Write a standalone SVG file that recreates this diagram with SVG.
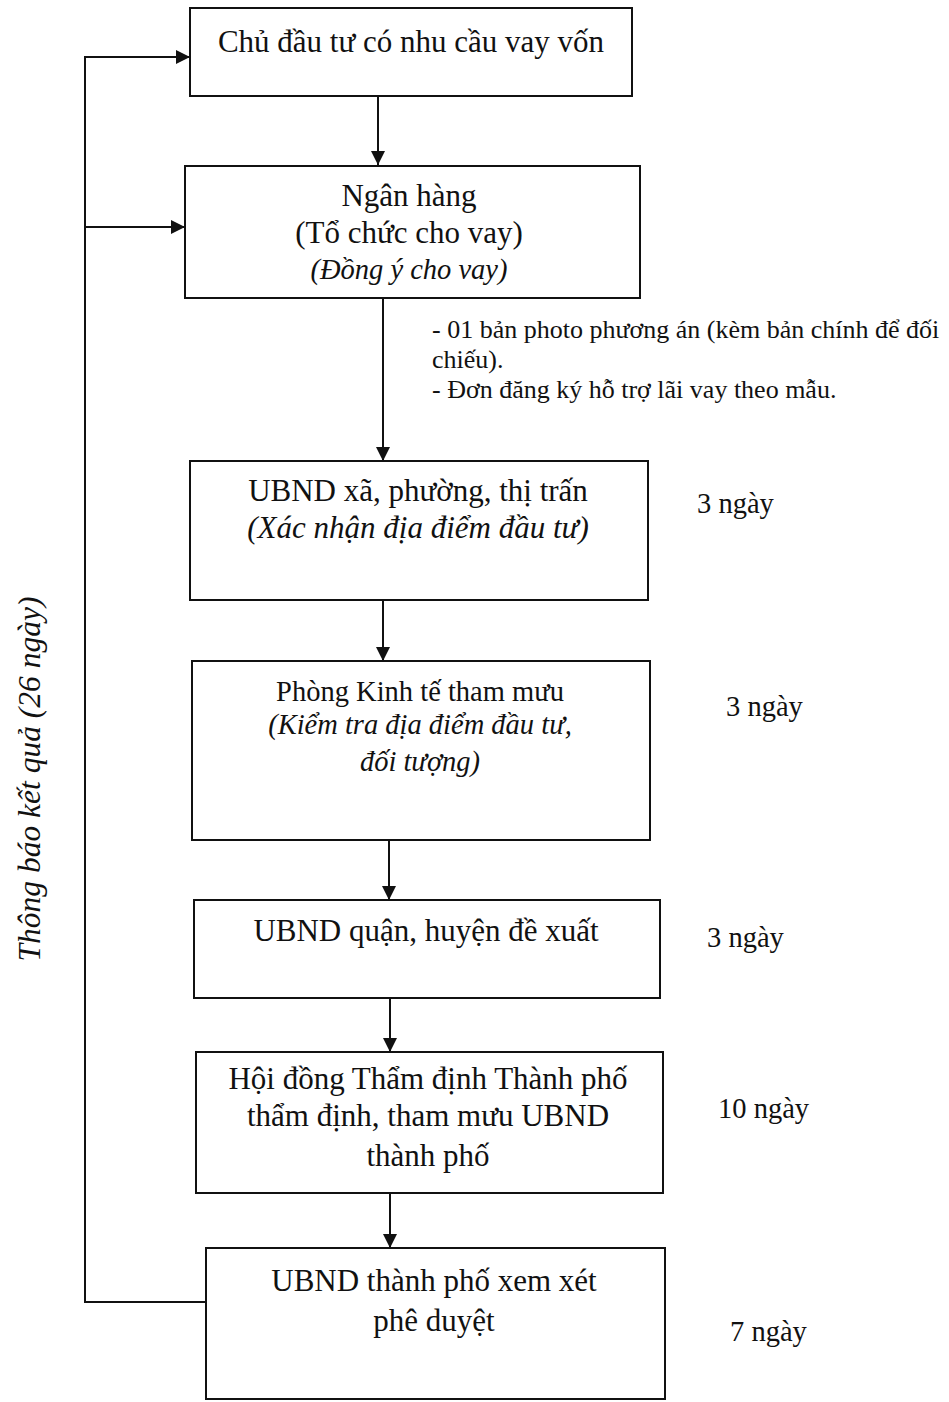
<svg xmlns="http://www.w3.org/2000/svg" width="949" height="1402" viewBox="0 0 949 1402">
<style>
.box{fill:#fff;stroke:#111;stroke-width:2}
.ln{fill:none;stroke:#111;stroke-width:2}
text{font-family:"Liberation Serif","Times New Roman",serif;fill:#111}
.t{font-size:31px;text-anchor:middle}
.s{font-size:28.5px;text-anchor:middle}
.i{font-style:italic}
.n{font-size:28.5px}
.a{font-size:26px}
</style>
<defs>
<marker id="ah2" markerWidth="14" markerHeight="14" refX="14" refY="7" orient="auto" markerUnits="userSpaceOnUse" viewBox="0 0 14 14">
<path d="M0,0 L14,7 L0,14 Z" fill="#111"/>
</marker>
</defs>
<rect width="949" height="1402" fill="#fff"/>
<g id="connectors">
<line class="ln" x1="378" y1="96" x2="378" y2="165" marker-end="url(#ah2)"/>
<line class="ln" x1="383" y1="298" x2="383" y2="461" marker-end="url(#ah2)"/>
<line class="ln" x1="383" y1="600" x2="383" y2="661" marker-end="url(#ah2)"/>
<line class="ln" x1="389" y1="840" x2="389" y2="900" marker-end="url(#ah2)"/>
<line class="ln" x1="390" y1="998" x2="390" y2="1052" marker-end="url(#ah2)"/>
<line class="ln" x1="390" y1="1193" x2="390" y2="1248" marker-end="url(#ah2)"/>
<polyline class="ln" points="206,1302 85,1302 85,57 190,57" marker-end="url(#ah2)"/>
<line class="ln" x1="85" y1="227" x2="185" y2="227" marker-end="url(#ah2)"/>
<text class="i" font-size="31.5" text-anchor="middle" transform="translate(40,779) rotate(-90)">Thông báo kết quả (26 ngày)</text>
</g>
<g id="n1">
<rect class="box" x="190" y="8" width="442" height="88"/>
<text class="t" x="411" y="52">Chủ đầu tư có nhu cầu vay vốn</text>
</g>
<g id="n2">
<rect class="box" x="185" y="166" width="455" height="132"/>
<text class="t" x="409" y="206">Ngân hàng</text>
<text class="t" x="409" y="243">(Tổ chức cho vay)</text>
<text class="s i" x="409" y="279">(Đồng ý cho vay)</text>
</g>
<g id="note">
<text class="a" x="432" y="338">- 01 bản photo phương án (kèm bản chính để đối</text>
<text class="a" x="432" y="368">chiếu).</text>
<text class="a" x="432" y="398">- Đơn đăng ký hỗ trợ lãi vay theo mẫu.</text>
</g>
<g id="n3">
<rect class="box" x="190" y="461" width="458" height="139"/>
<text class="t" x="418" y="501">UBND xã, phường, thị trấn</text>
<text class="t i" x="418" y="538">(Xác nhận địa điểm đầu tư)</text>
<text class="n" x="697" y="513">3 ngày</text>
</g>
<g id="n4">
<rect class="box" x="192" y="661" width="458" height="179"/>
<text class="s" x="420" y="701">Phòng Kinh tế tham mưu</text>
<text class="s i" x="420" y="734">(Kiểm tra địa điểm đầu tư,</text>
<text class="s i" x="420" y="771">đối tượng)</text>
<text class="n" x="726" y="716">3 ngày</text>
</g>
<g id="n5">
<rect class="box" x="194" y="900" width="466" height="98"/>
<text class="t" x="426" y="941">UBND quận, huyện đề xuất</text>
<text class="n" x="707" y="947">3 ngày</text>
</g>
<g id="n6">
<rect class="box" x="196" y="1052" width="467" height="141"/>
<text class="t" x="428" y="1089">Hội đồng Thẩm định Thành phố</text>
<text class="t" x="428" y="1126">thẩm định, tham mưu UBND</text>
<text class="t" x="428" y="1166">thành phố</text>
<text class="n" x="718" y="1118">10 ngày</text>
</g>
<g id="n7">
<rect class="box" x="206" y="1248" width="459" height="151"/>
<text class="t" x="434" y="1291">UBND thành phố xem xét</text>
<text class="t" x="434" y="1331">phê duyệt</text>
<text class="n" x="730" y="1341">7 ngày</text>
</g>
</svg>
